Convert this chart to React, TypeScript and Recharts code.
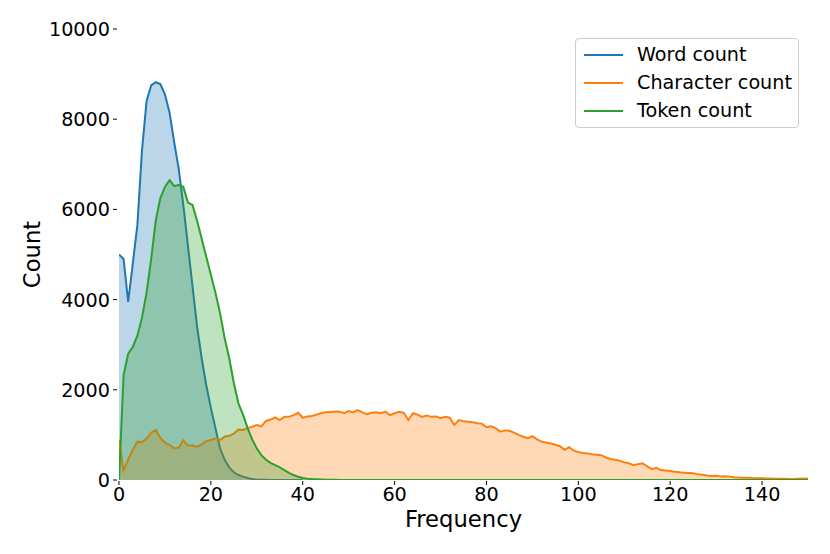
import React from 'react';
import { AreaChart, Area, XAxis, YAxis, Legend } from 'recharts';

const seriesNames = ['Word count', 'Character count', 'Token count'];
const seriesColors = ['#1f77b4', '#ff7f0e', '#2ca02c'];
const xTicks = [0, 20, 40, 60, 80, 100, 120, 140];
const yTicks = [0, 2000, 4000, 6000, 8000, 10000];

const wordCount = [
  5000, 4900, 3950, 4800, 5650, 7300, 8400, 8750, 8820, 8780,
  8550, 8150, 7500, 6900, 6100, 5200, 4300, 3400, 2700, 2100,
  1600, 1150, 700, 450, 280, 170, 110, 75, 45, 20,
  10, 5, 3, 2, 2, 1, 1, 1, 0, 0, 0,
];

const characterCount = [
  890, 220, 450, 670, 850, 840, 920, 1050, 1110, 930,
  830, 780, 700, 720, 880, 760, 770, 740, 790, 860,
  890, 920, 890, 960, 980, 1030, 1120, 1110, 1150, 1180,
  1220, 1190, 1310, 1340, 1390, 1330, 1400, 1400, 1440, 1490,
  1380, 1410, 1420, 1450, 1480, 1500, 1510, 1520, 1515, 1480,
  1530, 1500, 1550, 1500, 1460, 1490, 1500, 1480, 1515, 1440,
  1480, 1515, 1490, 1330, 1480, 1450, 1400, 1430, 1400, 1410,
  1370, 1400, 1380, 1220, 1330, 1300, 1290, 1280, 1260, 1250,
  1170, 1190, 1150, 1070, 1100, 1090, 1050, 1000, 960, 925,
  970, 900, 850, 830, 810, 780, 750, 670, 725, 650,
  620, 600, 590, 570, 560, 550, 500, 465, 450, 430,
  390, 370, 330, 350, 370, 300, 240, 270, 220, 210,
  200, 185, 170, 160, 155, 150, 125, 115, 100, 90,
  92, 80, 85, 75, 60, 55, 50, 48, 42, 40,
  38, 35, 32, 30, 28, 25, 24, 22, 30, 33,
  35,
];

const tokenCount = [
  0, 2330, 2800, 2950, 3200, 3600, 4150, 4900, 5750, 6250,
  6500, 6650, 6520, 6540, 6500, 6150, 6100, 5750, 5350, 4950,
  4550, 4150, 3700, 3150, 2700, 2150, 1700, 1450, 1150, 900,
  700, 550, 450, 380, 330, 280, 220, 160, 110, 70,
  45, 30, 20, 14, 10, 7, 5, 3, 2, 2,
  1, 1, 0, 0, 0, 0, 0, 0, 0, 0,
  0, 0, 0, 0, 0, 0, 0, 0, 0, 0,
  0, 0, 0, 0, 0, 0, 0, 0, 0, 0,
  0, 0, 0, 0, 0, 0, 0, 0, 0, 0,
  0, 0, 0, 0, 0, 0, 0, 0, 0, 0,
  0, 0, 0, 0, 0, 0, 0, 0, 0, 0,
  0, 0, 0, 0, 0, 0, 0, 0, 0, 0,
  0, 0, 0, 0, 0, 0, 0, 0, 0, 0,
  0, 0, 0, 0, 0, 0, 0, 0, 0, 0,
  0, 0, 0, 0, 0, 0, 0, 0, 0, 0,
  0,
];

const seriesValues = [wordCount, characterCount, tokenCount];
const toPoints = (arr: number[]) => arr.map((v, i) => ({ x: i, y: v }));

const FONT = "'DejaVu Sans', sans-serif";
const TICK_FS = 19.2;
const LABEL_FS = 22.7;

const YTick = (props: any) => {
  const { x, y, payload } = props;
  return (
    <g>
      <line x1={x - 6} x2={x - 2} y1={y} y2={y} stroke="#000" strokeWidth={1} />
      <text x={x - 9} y={y} dy="0.36em" textAnchor="end" fontSize={TICK_FS} fontFamily={FONT} fill="#000">
        {payload.value}
      </text>
    </g>
  );
};

const XTick = (props: any) => {
  const { x, y, payload } = props;
  return (
    <g>
      <line x1={x} x2={x} y1={y + 1} y2={y + 5} stroke="#000" strokeWidth={1} />
      <text x={x} y={y + 21} textAnchor="middle" fontSize={TICK_FS} fontFamily={FONT} fill="#000">
        {payload.value}
      </text>
    </g>
  );
};

const LegendBox = () => (
  <div
    style={{
      width: 222,
      height: 88,
      border: '1px solid #cccccc',
      borderRadius: 4,
      background: 'rgba(255,255,255,0.8)',
      position: 'relative',
      fontFamily: FONT,
      fontSize: TICK_FS,
      color: '#000',
    }}
  >
    {seriesNames.map((name, i) => (
      <div key={name} style={{ position: 'absolute', left: 0, top: 16 + i * 28 - 12, height: 24, width: 222 }}>
        <svg width={50} height={24} style={{ position: 'absolute', left: 0, top: 0 }}>
          <line x1={8} x2={47} y1={12} y2={12} stroke={seriesColors[i]} strokeWidth={2} />
        </svg>
        <span style={{ position: 'absolute', left: 61, top: 0, lineHeight: '24px', whiteSpace: 'nowrap' }}>{name}</span>
      </div>
    ))}
  </div>
);

export default function App() {
  return (
    <div style={{ position: 'absolute', left: 0, top: 0, width: 830, height: 554, background: '#fff' }}>
      <AreaChart width={830} height={554} margin={{ top: 29, right: 22, left: 0, bottom: 0 }}>
        <XAxis
          type="number"
          dataKey="x"
          domain={[0, 150]}
          ticks={xTicks}
          allowDataOverflow
          axisLine={false}
          tickLine={false}
          tickSize={0}
          tickMargin={0}
          height={74}
          tick={<XTick />}
          interval={0}
          label={() => (
            <text x={463.5} y={527} textAnchor="middle" fontSize={LABEL_FS} fontFamily={FONT} fill="#000">
              Frequency
            </text>
          )}
        />
        <YAxis
          type="number"
          domain={[0, 10000]}
          ticks={yTicks}
          allowDataOverflow
          axisLine={false}
          tickLine={false}
          tickSize={0}
          tickMargin={0}
          width={119}
          tick={<YTick />}
          interval={0}
          label={() => (
            <text
              x={32}
              y={254.5}
              transform="rotate(-90, 32, 254.5)"
              textAnchor="middle"
              dy="0.35em"
              fontSize={LABEL_FS}
              fontFamily={FONT}
              fill="#000"
            >
              Count
            </text>
          )}
        />
        {seriesNames.map((name, i) => (
          <Area
            key={name}
            name={name}
            data={toPoints(seriesValues[i])}
            dataKey="y"
            type="linear"
            stroke={seriesColors[i]}
            strokeWidth={2}
            fill={seriesColors[i]}
            fillOpacity={0.3}
            baseValue={0}
            dot={false}
            activeDot={false}
            isAnimationActive={false}
            legendType="line"
          />
        ))}
        <Legend
          layout="vertical"
          align="center"
          verticalAlign="middle"
          content={() => <LegendBox />}
          wrapperStyle={{ position: 'absolute', left: 575, top: 38, width: 224, height: 90 }}
        />
      </AreaChart>
    </div>
  );
}
